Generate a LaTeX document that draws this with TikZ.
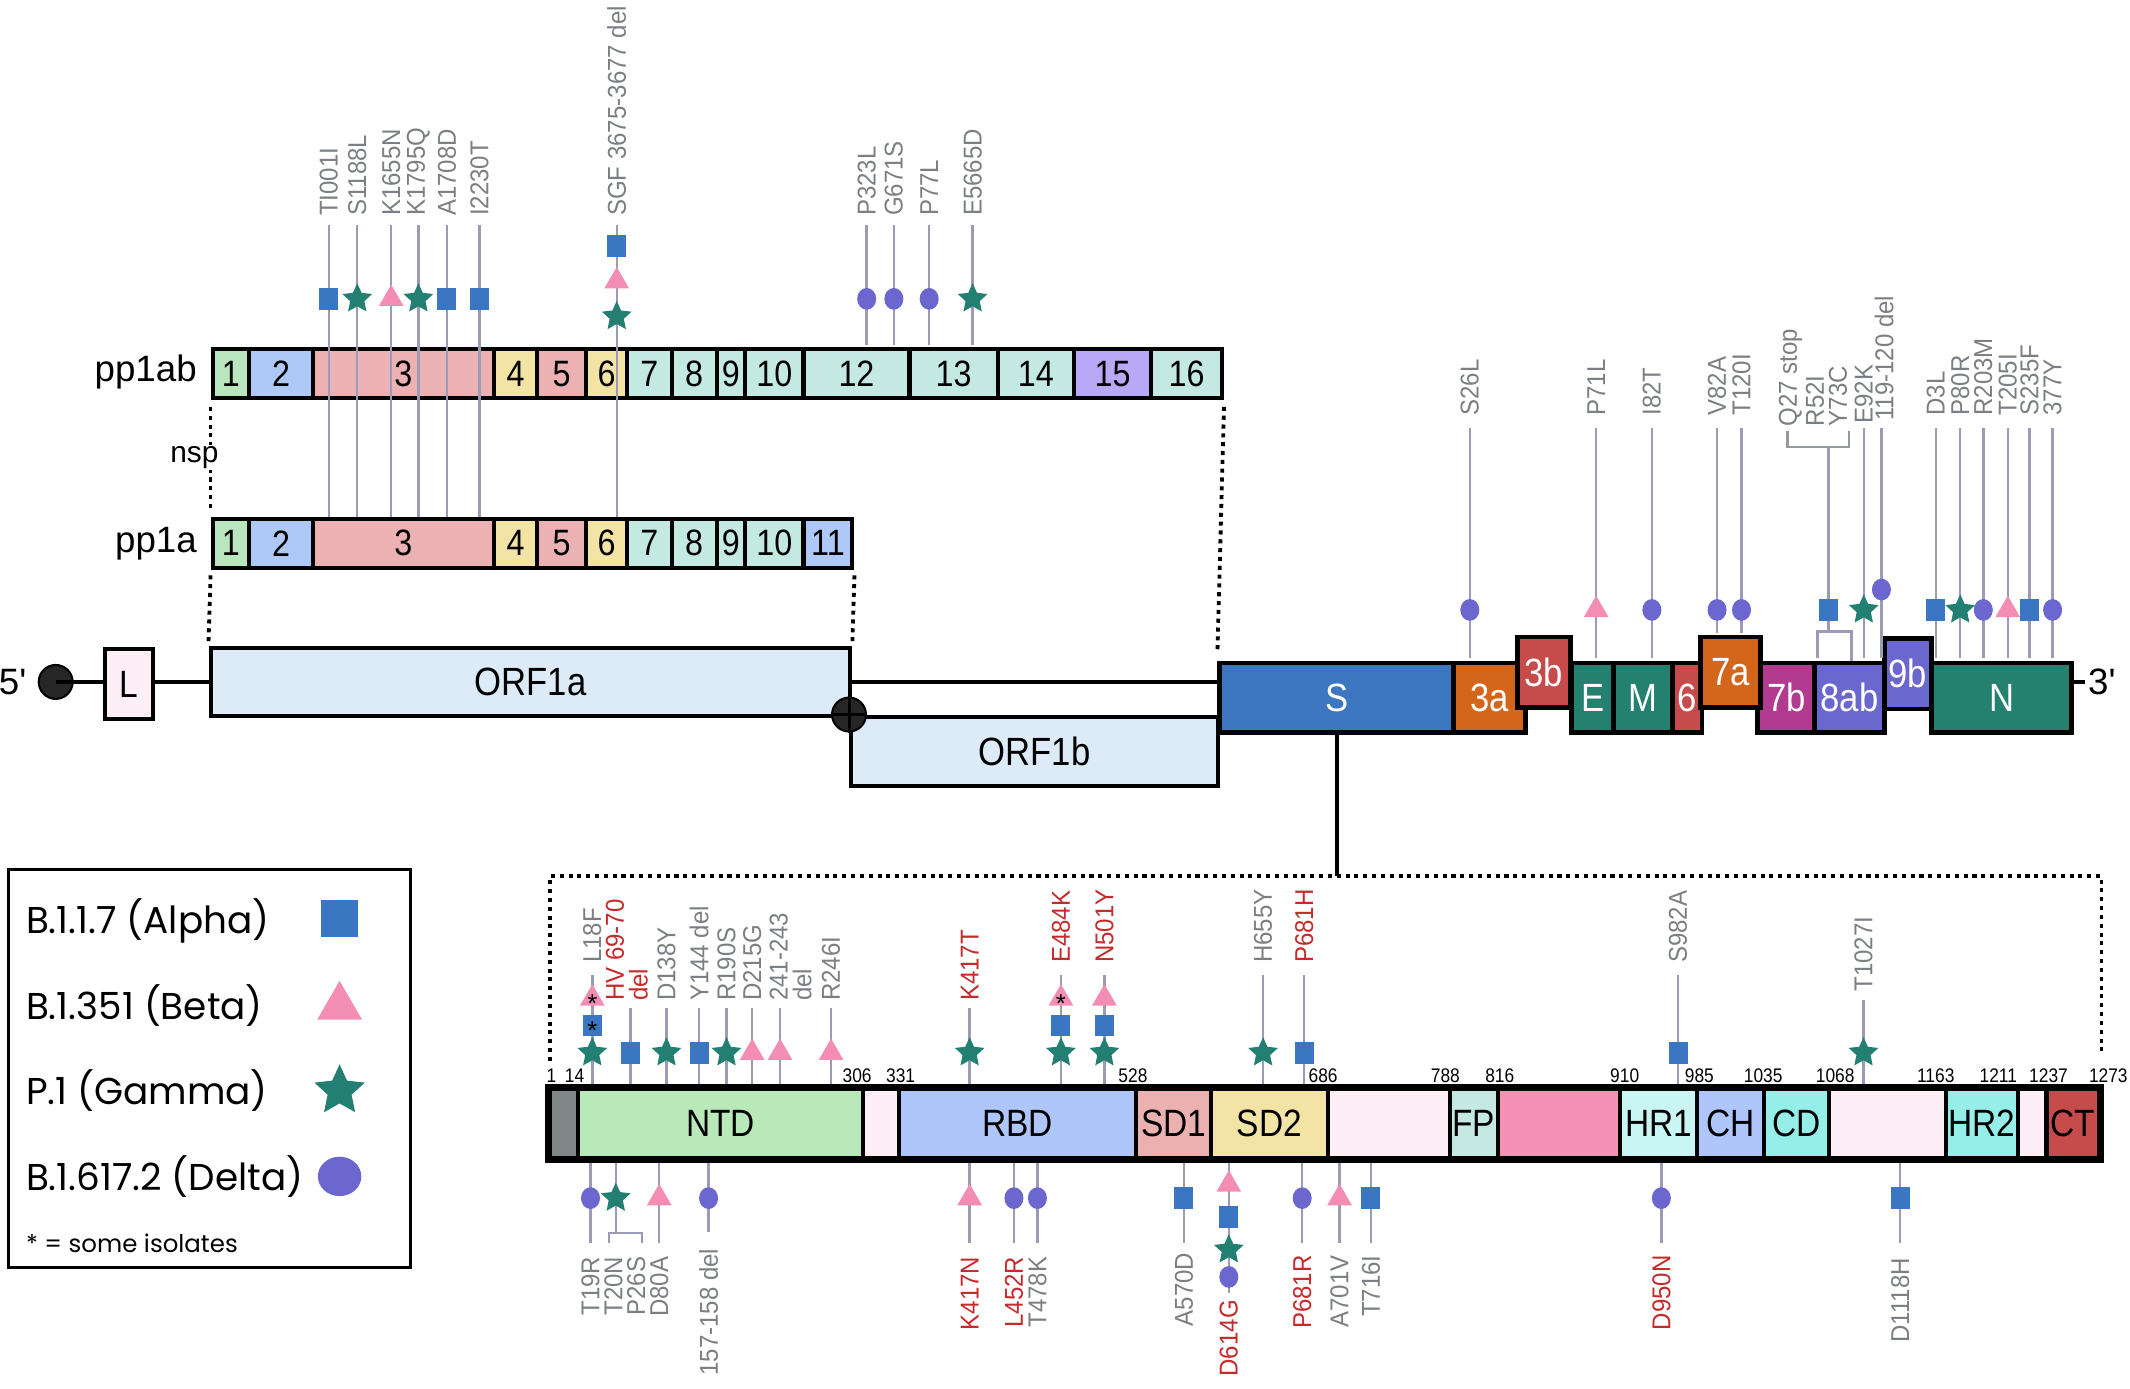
\documentclass[tikz,border=0pt]{standalone}
\usepackage{fontspec}
\setmainfont{Liberation Sans}
\newfontfamily\condfont[FakeStretch=0.88]{Liberation Sans}
\newfontfamily\labfont[FakeStretch=0.93]{Liberation Sans}
\newfontfamily\primefont{Liberation Sans}
\newfontfamily\legfont{Poppins}
\usetikzlibrary{shapes.geometric,positioning}

\definecolor{alphaC}{HTML}{3B76C2}
\definecolor{betaC}{HTML}{F48DB4}
\definecolor{gammaC}{HTML}{237F71}
\definecolor{deltaC}{HTML}{6B67CF}
\definecolor{stemC}{HTML}{9B9BB7}
\definecolor{labC}{HTML}{7B7F84}
\definecolor{redC}{HTML}{C62A2A}
\definecolor{nspGreen}{HTML}{B9E6BC}
\definecolor{nspBlue}{HTML}{AEC8F7}
\definecolor{nspPink}{HTML}{EBB1B3}
\definecolor{nspYellow}{HTML}{F3E3A5}
\definecolor{nspTeal}{HTML}{C4E8E2}
\definecolor{nspLav}{HTML}{B8A9F6}
\definecolor{orfBlue}{HTML}{DDEBF8}
\definecolor{paleP}{HTML}{FDEFF5}
\definecolor{sBlue}{HTML}{3D77C1}
\definecolor{gOrange}{HTML}{D4661C}
\definecolor{gRed}{HTML}{C84B4B}
\definecolor{gTeal}{HTML}{24806F}
\definecolor{gMag}{HTML}{B23A8F}
\definecolor{gPurp}{HTML}{6A67CE}
\definecolor{spGray}{HTML}{808787}
\definecolor{spGreen}{HTML}{B9E8B9}
\definecolor{spBlue}{HTML}{AEC6FA}
\definecolor{spPink}{HTML}{EBB1B1}
\definecolor{spYellow}{HTML}{F3E4A6}
\definecolor{spFP}{HTML}{C5E8E2}
\definecolor{spHot}{HTML}{F690B5}
\definecolor{spHR}{HTML}{C9F6F4}
\definecolor{spCD}{HTML}{95EEE8}

\tikzset{
  stem/.style={draw=stemC, line width=1.8},
  brak/.style={draw=labC!80, line width=1.8},
  mutlab/.style={rotate=90, inner sep=0, text=labC, font=\labfont\fontsize{19}{17.5}\selectfont},
  nspbox/.style={draw=black, line width=3, minimum height=36, inner sep=0, anchor=west,
    font=\condfont\fontsize{27}{28}\selectfont},
  genebox/.style={draw=black, line width=3.5, inner sep=0, text=white,
    font=\condfont\fontsize{29}{30}\selectfont},
  spbox/.style={draw=black, line width=3, minimum height=51, inner sep=0, anchor=west,
    font=\condfont\fontsize{28}{29}\selectfont},
  poslab/.style={inner sep=0, font=\condfont\fontsize{14.5}{15}\selectfont},
  dotline/.style={line width=2.8, dash pattern=on 3pt off 3.5pt},
  mkAlpha/.style={rectangle, fill=alphaC, minimum width=14, minimum height=16, inner sep=0},
  mkBeta/.style={regular polygon, regular polygon sides=3, fill=betaC, minimum size=21, inner sep=0},
  mkGamma/.style={star, star points=5, star point ratio=2.1, fill=gammaC, minimum size=23, inner sep=0},
  mkDelta/.style={ellipse, fill=deltaC, minimum width=14, minimum height=16, inner sep=0},
  isol/.style={inner sep=0, yshift=-4pt, font=\fontsize{19}{19}\selectfont}
}

\begin{document}
\begin{tikzpicture}[x=1pt,y=-1pt]
\useasboundingbox (0,0) rectangle (1568,1022);

% polyproteins
\node[anchor=east, inner sep=0, font=\fontsize{27}{28}\selectfont] (lab1ab) at (145,274) {pp1ab};
\foreach \xa/\xb/\col/\lab in {155/182/nspGreen/1, 182/229/nspBlue/2, 229/362/nspPink/3,
  362/394/nspYellow/4, 394/430/nspPink/5, 430/460/nspYellow/6, 460/493/nspTeal/7,
  493/526/nspTeal/8, 526/547/nspTeal/9, 547/590/nspTeal/10, 590/668/nspTeal/12,
  668/733/nspTeal/13, 733/789/nspTeal/14, 789/846/nspLav/15, 846/898/nspTeal/16}
  \node[nspbox, fill=\col, minimum width=\xb-\xa] (ab\lab) at (\xa,275) {\lab};

\node[anchor=east, inner sep=0, font=\fontsize{27}{28}\selectfont] (lab1a) at (145,400) {pp1a};

% nsp3 / nsp6 mutations run down to pp1a
\foreach \x/\lab/\m [count=\i] in {242/TI001I/mkAlpha, 263/S1188L/mkGamma, 288/K1655N/mkBeta,
  308/K1795Q/mkGamma, 329/A1708D/mkAlpha, 353/I2230T/mkAlpha}
{
  \node[mutlab, anchor=west] (ta\i) at (\x,159) {\lab};
  \coordinate (tas\i) at (\x,166);
  \draw[stem] (tas\i) -- (\x,384);
  \node[\m] (tam\i) at (\x,220) {};
}
\node[mutlab, anchor=west] (sgf) at (454,159) {SGF 3675-3677 del};
\coordinate (sgfs) at (454,166);
\draw[stem] (sgfs) -- (454,384);
\node[mkAlpha] (sgfA) at (454,181) {};
\node[mkBeta] (sgfB) at (454,207) {};
\node[mkGamma] (sgfG) at (454,233) {};

\foreach \xa/\xb/\col/\lab in {155/182/nspGreen/1, 182/229/nspBlue/2, 229/362/nspPink/3,
  362/394/nspYellow/4, 394/430/nspPink/5, 430/460/nspYellow/6, 460/493/nspTeal/7,
  493/526/nspTeal/8, 526/547/nspTeal/9, 547/590/nspTeal/10, 590/626/nspBlue/11}
  \node[nspbox, fill=\col, minimum width=\xb-\xa] (a\lab) at (\xa,400) {\lab};

% nsp12 / nsp13 mutations
\foreach \x/\lab/\m [count=\i] in {638/P323L/mkDelta, 658/G671S/mkDelta, 684/P77L/mkDelta,
  716/E5665D/mkGamma}
{
  \node[mutlab, anchor=west] (tb\i) at (\x,159) {\lab};
  \coordinate (tbs\i) at (\x,166);
  \draw[stem, shorten >=1.5pt] (tbs\i) -- (tbs\i |- ab12.north);
  \node[\m] (tbm\i) at (\x,220) {};
}

% genome
\node[anchor=west, inner sep=0, font=\primefont\fontsize{27}{28}\selectfont] (five) at (-1,502) {5'};
\node[circle, fill=black!85, draw=black, line width=1.5, minimum size=25, inner sep=0] (cap5) at (41,502) {};
\node[draw=black, line width=3, fill=paleP, minimum width=35, minimum height=52, inner sep=0,
  font=\condfont\fontsize{28}{30}\selectfont] (L) at (95,503.5) {L};
\draw[line width=3] (cap5.center) -- (cap5 -| L.west);
\draw[line width=3] (L.east |- cap5) -- (155,502);
\node[draw=black, line width=3, fill=orfBlue, minimum width=471, minimum height=50, inner sep=0,
  font=\condfont\fontsize{29}{30}\selectfont] (orf1a) at (390.5,502) {ORF1a};
\node[draw=black, line width=3, fill=orfBlue, minimum width=270, minimum height=51, inner sep=0,
  font=\condfont\fontsize{29}{30}\selectfont] (orf1b) at (761.5,553) {ORF1b};
\node[circle, fill=black!85, draw=black, line width=1.5, minimum size=25, inner sep=0] (jct) at (orf1b.north west) {};
\draw[line width=2.2] (jct.north) -- (jct.south) (jct.west) -- (jct.east);

\node[genebox, fill=sBlue, minimum width=172, minimum height=51] (gS) at (984,513.5) {S};
\draw[line width=3] (orf1a.east) -- (orf1a.east -| gS.west);
\node[genebox, fill=gOrange, minimum width=53, minimum height=51] (g3a) at (1096.5,513.5) {3a};
\node[genebox, fill=gRed, minimum width=39, minimum height=52] (g3b) at (1136.5,495) {3b};
\node[genebox, fill=gTeal, minimum width=31, minimum height=51] (gE) at (1172.5,513.5) {E};
\node[genebox, fill=gTeal, minimum width=43, minimum height=51] (gM) at (1209.5,513.5) {M};
\node[genebox, fill=gRed, minimum width=22, minimum height=51] (g6) at (1242,513.5) {6};
\node[genebox, fill=gMag, minimum width=42, minimum height=51] (g7b) at (1315,513.5) {7b};
\node[genebox, fill=gOrange, minimum width=44, minimum height=52] (g7a) at (1274,495) {7a};
\node[genebox, fill=gPurp, minimum width=51, minimum height=51] (g8ab) at (1361.5,513.5) {8ab};
\node[genebox, fill=gTeal, minimum width=103, minimum height=51] (gN) at (1473.5,513.5) {N};
\node[genebox, fill=gPurp, minimum width=35, minimum height=52] (g9b) at (1404.5,496) {9b};
\coordinate (end3) at (1535,502);
\draw[line width=3] (gN.east |- end3) -- (end3);
\node[anchor=west, inner sep=0, font=\primefont\fontsize{27}{28}\selectfont] (three) at (1537,502) {3'};

% dotted guides
\draw[dotline] ([yshift=-5pt]ab1.south west) -- ([yshift=4pt]a1.north west);
\draw[dotline] ([yshift=-5pt]ab16.south east) -- ([yshift=7pt]gS.north west);
\draw[dotline] ([yshift=-4pt]a1.south west) -- ([yshift=3pt]orf1a.north west);
\draw[dotline] ([yshift=-4pt]a11.south east) -- ([yshift=3pt]orf1a.north east);
\node[anchor=east, fill=white, inner sep=1pt, font=\fontsize{22}{24}\selectfont] (nsp) at (162,337) {nsp};

% accessory / structural gene mutations
\foreach \x/\lab/\m/\g/\lb [count=\i] in {1082/S26L/mkDelta/g3a/306, 1175/P71L/mkBeta/gE/306,
  1216/I82T/mkDelta/gM/306, 1264/V82A/mkDelta/g7a/306, 1282/T120I/mkDelta/g7a/306,
  1372/E92K/mkGamma/g8ab/312, 1425/D3L/mkAlpha/gN/306, 1443/P80R/mkGamma/gN/306,
  1460/R203M/mkDelta/gN/306, 1478/T205I/mkBeta/gN/306, 1494/S235F/mkAlpha/gN/306,
  1511/377Y/mkDelta/gN/306}
{
  \node[mutlab, anchor=west] (rl\i) at (\x,\lb) {\lab};
  \coordinate (rt\i) at (\x,315);
  \draw[stem, shorten >=1.5pt] (rt\i) -- (rt\i |- \g.north);
  \node[\m] (rm\i) at (\x,449) {};
}
\node[mutlab, anchor=west] (del119) at (1387,310) {119-120 del};
\coordinate (del119s) at (1385,315);
\draw[stem, shorten >=1.5pt] (del119s) -- (del119s |- g8ab.north);
\node[mkDelta] (del119m) at (1385,434) {};
\node[mutlab, anchor=west] (q27) at (1318,314) {Q27 stop};
\node[mutlab, anchor=west] (r52) at (1336,314) {R52I};
\node[mutlab, anchor=west] (y73) at (1353,314) {Y73C};
\coordinate (brL) at (1316,317);
\coordinate (brR) at (1361,317);
\draw[brak] (brL) -- ++(0,12) -| (brR);
\coordinate (brS) at (1346,329);
\draw[stem] (brS) -- (1346,465);
\draw[stem, shorten <=1.5pt] (g8ab.north -| 1338,0) -- (1338,465) -- (1363,465) -- (g8ab.north -| 1363,0);
\node[mkAlpha] (q27m) at (1346,449) {};

% spike expansion
\coordinate (boxTL) at (405,645);
\coordinate (boxTR) at (1547,645);
\draw[line width=2.8] (gS.south) -- (gS.south |- boxTL);
\draw[dotline] (405,781) -- (boxTL) -- (boxTR) -- (1547,776);

\foreach \xa/\xb/\col/\lab [count=\i] in {403/424/spGray/{}, 424/634/spGreen/NTD, 634/660/paleP/{},
  660/835/spBlue/RBD, 835/890/spPink/SD1, 890/976/spYellow/SD2, 976/1066/paleP/{},
  1066/1101/spFP/FP, 1101/1191/spHot/{}, 1191/1248/spHR/HR1, 1248/1297/spBlue/CH,
  1297/1345/spCD/CD, 1345/1431/paleP/{}, 1431/1484/spCD/HR2, 1484/1505/paleP/{}, 1505/1544/gRed/CT}
  \node[spbox, fill=\col, minimum width=\xb-\xa] (sp\i) at (\xa,827) {\lab};
\draw[line width=3.8] (sp1.north west) rectangle (sp16.south east);

\foreach \x/\n in {406/1, 423/14, 631/306, 663/331, 834/528, 974/686, 1064/788, 1104/816,
  1196/910, 1251/985, 1298/1035, 1351/1068, 1425/1163, 1471/1211, 1508/1237, 1552/1273}
  \node[poslab] (pos\n) at (\x,792) {\n};

% spike mutations above
\foreach \x/\lab/\m/\col/\lb/\lt [count=\i] in {490.6/D138Y/mkGamma/labC/737/742,
  514.6/Y144 del/mkAlpha/labC/737/742, 534.8/R190S/mkGamma/labC/737/742,
  553.7/D215G/mkBeta/labC/737/742, 611.8/R246I/mkBeta/labC/737/742,
  713.8/K417T/mkGamma/redC/737/742, 929.8/H655Y/mkGamma/labC/709/718,
  960.1/P681H/mkAlpha/redC/709/718, 1235.3/S982A/mkAlpha/labC/709/718,
  1371.8/T1027I/mkGamma/labC/730/736}
{
  \node[mutlab, text=\col, anchor=west] (su\i) at (\x,\lb) {\lab};
  \coordinate (sut\i) at (\x,\lt);
  \draw[stem, shorten >=2pt] (sut\i) -- (sut\i |- sp1.north);
  \node[\m] (sum\i) at (\x,775) {};
}
\node[mutlab, text=redC, anchor=west, align=left] (hv) at (461.5,737) {HV 69-70\\del};
\coordinate (hvt) at (464,742);
\draw[stem, shorten >=2pt] (hvt) -- (hvt |- sp1.north);
\node[mkAlpha] (hvm) at (464,775) {};
\node[mutlab, anchor=west, align=left] (d241) at (582,737) {241-243\\del};
\coordinate (d241t) at (574.2,742);
\draw[stem, shorten >=2pt] (d241t) -- (d241t |- sp1.north);
\node[mkBeta] (d241m) at (574.2,775) {};

\foreach \x/\lab/\col [count=\i] in {436/L18F/labC, 781/E484K/redC, 813/N501Y/redC}
{
  \node[mutlab, text=\col, anchor=west] (sm\i) at (\x,709) {\lab};
  \coordinate (smt\i) at (\x,718);
  \draw[stem, shorten >=2pt] (smt\i) -- (smt\i |- sp1.north);
  \node[mkBeta] (smb\i) at (\x,735) {};
  \node[mkAlpha] (sma\i) at (\x,755) {};
  \node[mkGamma] (smg\i) at (\x,775) {};
}
\node[isol] (st1) at (smb1) {*};
\node[isol] (st2) at (sma1) {*};
\node[isol] (st3) at (smb2) {*};

% spike mutations below
\foreach \x/\lab/\m/\col/\lt [count=\i] in {434.7/T19R/mkDelta/labC/925,
  485.3/D80A/mkBeta/labC/925, 713.8/K417N/mkBeta/redC/925, 746.4/L452R/mkDelta/redC/925,
  763.7/T478K/mkDelta/labC/925, 871.5/A570D/mkAlpha/labC/922, 958.6/P681R/mkDelta/redC/924,
  986.1/A701V/mkBeta/labC/924, 1009.2/T716I/mkAlpha/labC/924, 1223/D950N/mkDelta/redC/924,
  1398.8/D1118H/mkAlpha/labC/926}
{
  \coordinate (sl\i) at (\x,915);
  \draw[stem, shorten <=2pt] (sl\i |- sp1.south) -- (sl\i);
  \node[\m] (slm\i) at (\x,882) {};
  \node[mutlab, text=\col, anchor=east] (sll\i) at (\x,\lt) {\lab};
}
\coordinate (t20) at (453.3,907.6);
\draw[stem, shorten <=2pt] (t20 |- sp1.south) -- (t20);
\draw[stem] (448.2,915) -- (448.2,907.6) -- (472.5,907.6) -- (472.5,915);
\node[mkGamma] (t20m) at (453.3,882) {};
\node[mutlab, anchor=east] (t20l) at (451.6,925) {T20N};
\node[mutlab, anchor=east] (p26l) at (468.3,925) {P26S};
\coordinate (d157) at (521.6,907);
\draw[stem, shorten <=2pt] (d157 |- sp1.south) -- (d157);
\node[mkDelta] (d157m) at (521.6,882) {};
\node[mutlab, anchor=east] (d157l) at (521.6,919) {157-158 del};
\coordinate (d614) at (904.6,952);
\draw[stem, shorten <=2pt] (d614 |- sp1.south) -- (d614);
\node[mkBeta] (d614b) at (904.6,872) {};
\node[mkAlpha] (d614a) at (904.6,896) {};
\node[mkGamma] (d614g) at (904.6,920) {};
\node[mkDelta] (d614d) at (904.6,940) {};
\node[mutlab, text=redC, anchor=east] (d614l) at (904.6,957) {D614G};

% legend
\node[draw=black, line width=2, minimum width=296, minimum height=293, inner sep=0] (legbox) at (154,786.5) {};
\node[anchor=west, inner sep=0, font=\legfont\fontsize{27.5}{28}\selectfont] (lgA) at (19,678) {B.1.1.7 (Alpha)};
\node[anchor=west, inner sep=0, font=\legfont\fontsize{27.5}{28}\selectfont] (lgB) at (19,740) {B.1.351 (Beta)};
\node[anchor=west, inner sep=0, font=\legfont\fontsize{27.5}{28}\selectfont] (lgG) at (19,803) {P.1 (Gamma)};
\node[anchor=west, inner sep=0, font=\legfont\fontsize{27.5}{28}\selectfont] (lgD) at (19,866) {B.1.617.2 (Delta)};
\node[mkAlpha, minimum width=27, minimum height=27] (lgAm) at (250,676) {};
\node[mkBeta, minimum size=38] (lgBm) at (250,741) {};
\node[mkGamma, minimum size=39] (lgGm) at (250,803) {};
\node[mkDelta, minimum width=32, minimum height=29] (lgDm) at (250,866) {};
\node[anchor=west, inner sep=0, font=\legfont\fontsize{18}{19}\selectfont] (lgN) at (19,915) {* = some isolates};
\end{tikzpicture}
\end{document}
